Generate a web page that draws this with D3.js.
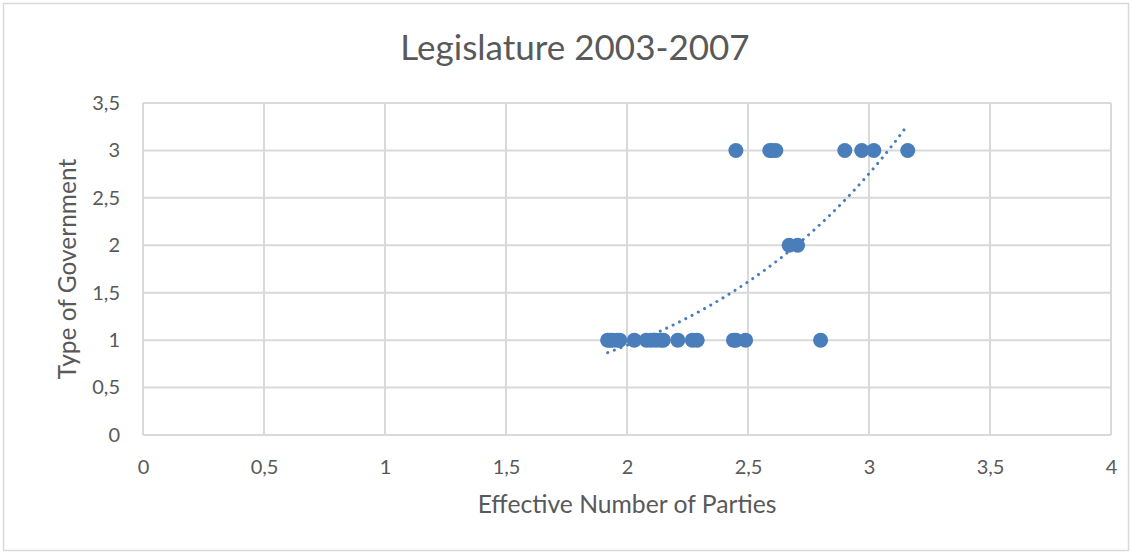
<!DOCTYPE html>
<html>
<head>
<meta charset="utf-8">
<script src="https://cdn.jsdelivr.net/npm/d3@7"></script>
<style>
  html, body { margin: 0; padding: 0; background: #fff; }
  svg { display: block; }
  text { font-family: Lato, "Open Sans", sans-serif; fill: #595959; }
</style>
</head>
<body>
<div id="chart"></div>
<script>
// ---- data ----
const chartTitle = "Legislature 2003-2007";
const xTitle = "Effective Number of Parties";
const yTitle = "Type of Government";
const xTicks = [0, 0.5, 1, 1.5, 2, 2.5, 3, 3.5, 4];
const yTicks = [0, 0.5, 1, 1.5, 2, 2.5, 3, 3.5];
// effective number of parties per case
const enp = [
  1.92, 1.93, 1.94, 1.96, 1.97, 2.03, 2.08, 2.10, 2.12, 2.14, 2.15, 2.21, 2.27, 2.29, 2.44, 2.45, 2.49, 2.80,
  2.67, 2.705,
  2.45, 2.59, 2.60, 2.615, 2.90, 2.97, 3.02, 3.16
];
// type of government per case
const govType = [
  1, 1, 1, 1, 1, 1, 1, 1, 1, 1, 1, 1, 1, 1, 1, 1, 1, 1,
  2, 2,
  3, 3, 3, 3, 3, 3, 3, 3
];

const W = 1132, H = 554;
const margin = { left: 143, right: 21, top: 103, bottom: 119 };
const color = "#4a7ebb";

const svg = d3.select("#chart").append("svg").attr("width", W).attr("height", H);

// outer border
svg.append("rect").attr("x", 3.5).attr("y", 3.5).attr("width", W - 7).attr("height", H - 7)
  .attr("fill", "#fff").attr("stroke", "#d9d9d9").attr("stroke-width", 1.5);

const x = d3.scaleLinear().domain([0, 4]).range([margin.left, W - margin.right]);
const y = d3.scaleLinear().domain([0, 3.5]).range([H - margin.bottom, margin.top]);

// gridlines
const grid = svg.append("g");
grid.selectAll("line.v").data(xTicks).join("line")
  .attr("x1", d => x(d)).attr("x2", d => x(d))
  .attr("y1", y(0)).attr("y2", y(3.5))
  .attr("stroke", "#d9d9d9").attr("stroke-width", 2);
grid.selectAll("line.h").data(yTicks).join("line")
  .attr("y1", d => y(d)).attr("y2", d => y(d))
  .attr("x1", x(0)).attr("x2", x(4))
  .attr("stroke", "#d9d9d9").attr("stroke-width", 2);

const fmt = d => String(d).replace(".", ",");

// axes (labels only)
const xAxis = svg.append("g").attr("transform", `translate(0,${y(0)})`)
  .call(d3.axisBottom(x).tickValues(xTicks).tickFormat(fmt).tickSize(0));
xAxis.select(".domain").remove();
xAxis.selectAll("text").attr("y", 39).attr("dy", 0).style("font-size", "20px").attr("fill", "#595959")
  .style("font-family", "Lato, sans-serif");

const yAxis = svg.append("g").attr("transform", `translate(${x(0)},0)`)
  .call(d3.axisLeft(y).tickValues(yTicks).tickFormat(fmt).tickSize(0).tickPadding(23));
yAxis.select(".domain").remove();
yAxis.selectAll("text").style("font-size", "20px").attr("fill", "#595959")
  .style("font-family", "Lato, sans-serif");

// exponential trendline (least squares on ln y), drawn across data range
const pts = enp.map((v, i) => [v, govType[i]]);
const n = pts.length;
let sx = 0, sy = 0, sxy = 0, sxx = 0;
pts.forEach(([a, b]) => { const ly = Math.log(b); sx += a; sy += ly; sxy += a * ly; sxx += a * a; });
const bCoef = (n * sxy - sx * sy) / (n * sxx - sx * sx);
const aCoef = Math.exp((sy - bCoef * sx) / n);
const [xmin, xmax] = d3.extent(enp);
const trend = d3.range(0, 101).map(i => {
  const xv = xmin + (xmax - xmin) * i / 100;
  return [xv, aCoef * Math.exp(bCoef * xv)];
});

svg.append("path").datum(trend)
  .attr("d", d3.line().x(d => x(d[0])).y(d => y(d[1])))
  .attr("fill", "none").attr("stroke", color).attr("stroke-width", 3)
  .attr("stroke-linecap", "round").attr("stroke-dasharray", "0.1 7");

// points
svg.append("g").selectAll("circle").data(pts).join("circle")
  .attr("cx", d => x(d[0])).attr("cy", d => y(d[1])).attr("r", 7.5)
  .attr("fill", color);

// titles
svg.append("text").attr("x", 575).attr("y", 60).attr("text-anchor", "middle")
  .style("font-size", "35px").text(chartTitle);
svg.append("text").attr("x", x(2)).attr("y", 513).attr("text-anchor", "middle")
  .style("font-size", "24.7px").text(xTitle);
svg.append("text").attr("transform", `translate(76,${y(1.75)}) rotate(-90)`)
  .attr("text-anchor", "middle").style("font-size", "24.5px").text(yTitle);
</script>
</body>
</html>
